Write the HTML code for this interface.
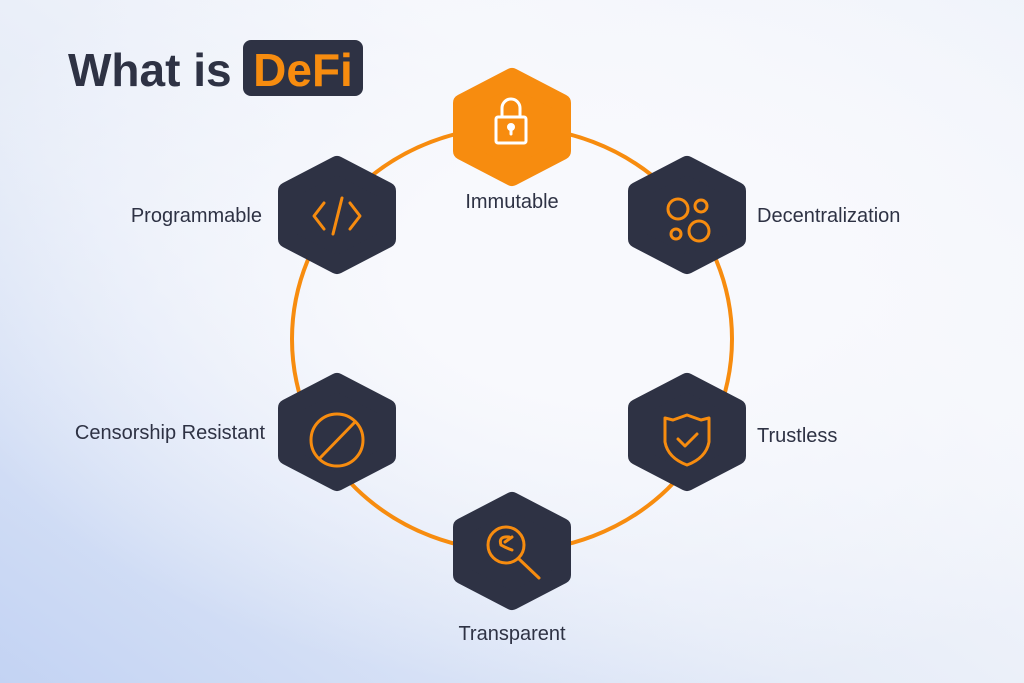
<!DOCTYPE html>
<html><head><meta charset="utf-8"><style>
body{margin:0;width:1024px;height:683px;overflow:hidden;font-family:"Liberation Sans",sans-serif;
background:radial-gradient(ellipse 700px 420px at 60% 40%,#f8f9fd 30%,rgba(248,249,253,0) 100%),linear-gradient(35deg,#c3d3f3 0%,#e6ecf8 40%,#f4f6fb 70%,#eef2fa 100%);}
svg{position:absolute;left:0;top:0}
</style></head><body>
<svg width="1024" height="683" viewBox="0 0 1024 683">
<defs>
<path id="hx" d="M0,-50 L50,-24 L50,24 L0,50 L-50,24 L-50,-24 Z" stroke-width="18" stroke-linejoin="round"/>
</defs>
<ellipse cx="512" cy="339" rx="220" ry="212" fill="none" stroke="#f78c0f" stroke-width="4"/>
<g fill="#2e3244" stroke="#2e3244">
<use href="#hx" x="337" y="215"/><use href="#hx" x="687" y="215"/>
<use href="#hx" x="337" y="432"/><use href="#hx" x="687" y="432"/>
<use href="#hx" x="512" y="551"/>
</g>
<use href="#hx" x="512" y="127" fill="#f78c0f" stroke="#f78c0f"/>
<g fill="none" stroke="#fff" stroke-width="3" stroke-linecap="round">
<rect x="496" y="117" width="30" height="26" rx="2"/>
<path d="M502,117 V108 a9,9 0 0 1 18,0 V117"/>
<circle cx="511" cy="127" r="2.5" fill="#fff"/><path d="M511,129 V134"/>
</g>
<g fill="none" stroke="#f78c0f" stroke-width="3" stroke-linecap="round" stroke-linejoin="round">
<path d="M324,203 L314,216 L324,229 M350,203 L360,216 L350,229 M342,198 L333,234"/>
<circle cx="678" cy="209" r="10"/><circle cx="701" cy="206" r="6"/><circle cx="676" cy="234" r="5"/><circle cx="699" cy="231" r="10"/>
<circle cx="337" cy="440" r="26"/><path d="M320,458 L355,422"/>
<path d="M665,418 L673,420 L687,415 L701,420 L709,418 L709,442 Q706,458 687,465 Q668,458 665,442 Z"/>
<path d="M678,439 L685,446 L697,434"/>
<circle cx="506" cy="545" r="18"/><path d="M519,559 L539,578"/>
<path d="M509,537 Q498,536 501,545 Q506,548 512,550 M505,542 L512,537"/>
</g>
<g font-size="20" fill="#2e3244">
<text x="262" y="222" text-anchor="end">Programmable</text>
<text x="512" y="208" text-anchor="middle">Immutable</text>
<text x="757" y="222">Decentralization</text>
<text x="265" y="439" text-anchor="end">Censorship Resistant</text>
<text x="757" y="442">Trustless</text>
<text x="512" y="640" text-anchor="middle">Transparent</text>
</g>
<text x="68" y="86" font-size="46" font-weight="bold" fill="#2e3244">What is</text>
<rect x="243" y="40" width="120" height="56" rx="8" fill="#2e3244"/>
<text x="303" y="86" font-size="46" font-weight="bold" fill="#f78c0f" text-anchor="middle">DeFi</text>
</svg>
</body></html>
